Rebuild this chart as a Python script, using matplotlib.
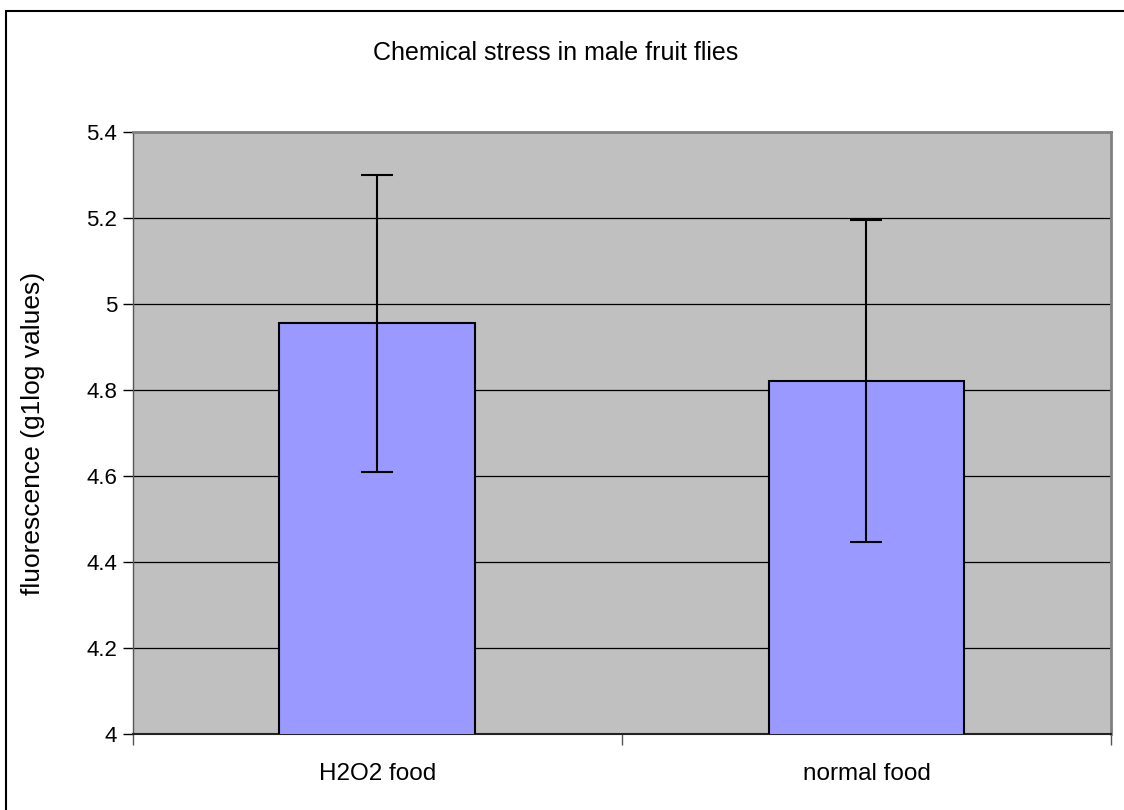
import numpy as np
import matplotlib.pyplot as plt
from matplotlib.patches import Rectangle

plt.rcParams['font.family'] = ['Liberation Sans', 'DejaVu Sans']

# data
categories = ['H2O2 food', 'normal food']
means = [4.956, 4.822]
errors = [0.345, 0.375]

fig = plt.figure(figsize=(11.24, 8.10), dpi=100)
ax = fig.add_axes([0.118, 0.0935, 0.8705, 0.7432])

x = np.arange(len(categories))
ax.bar(x, means, width=0.4, color='#9999FF', edgecolor='black', linewidth=1.5, zorder=3)
ax.errorbar(x, means, yerr=errors, fmt='none', ecolor='black', elinewidth=1.5,
            capsize=11.3, capthick=1.5, zorder=4)

ax.set_facecolor('#C0C0C0')
ax.set_xlim(-0.5, 1.5)
ax.set_ylim(4, 5.4)
ax.set_yticks(np.arange(4, 5.41, 0.2))
ax.set_yticklabels(['4', '4.2', '4.4', '4.6', '4.8', '5', '5.2', '5.4'])
ax.yaxis.grid(True, color='black', linewidth=0.9, zorder=0)
ax.set_axisbelow(True)

# category ticks sit at the boundaries, labels at bar centres
ax.set_xticks([-0.5, 0.5, 1.5])
ax.set_xticklabels([])
ax.set_xticks(x, minor=True)
ax.set_xticklabels(categories, minor=True)
ax.tick_params(axis='x', which='major', length=8, width=1, color='#555555')
ax.tick_params(axis='x', which='minor', length=0, pad=21, labelsize=17.5)
ax.tick_params(axis='y', length=7, width=1, labelsize=16, pad=4)

for side in ['top', 'right']:
    ax.spines[side].set_color('#808080')
    ax.spines[side].set_linewidth(2)
ax.spines['bottom'].set_color('#222222')
ax.spines['bottom'].set_linewidth(1.5)
ax.spines['left'].set_color('#555555')
ax.spines['left'].set_linewidth(1)

ax.set_ylabel('fluorescence (g1log values)', fontsize=19, va='center')
ax.yaxis.set_label_coords(-0.102, 0.5)
fig.text(0.494, 0.935, 'Chemical stress in male fruit flies', ha='center', va='center', fontsize=18)

# outer chart border (cut off at right and bottom)
fig.patches.append(Rectangle((6.5 / 1124, -0.05), 1.2, 1.05 - 10.5 / 810,
                             transform=fig.transFigure, fill=False,
                             edgecolor='black', linewidth=1.5))

fig.savefig('out.png', dpi=100)
